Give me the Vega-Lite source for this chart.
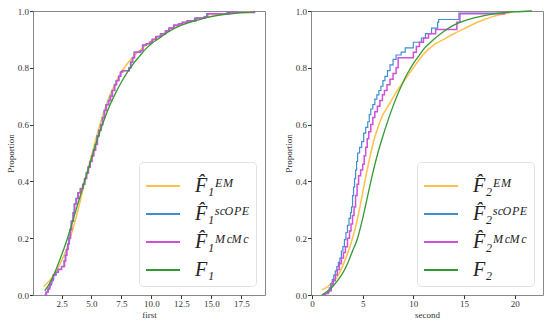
{
  "$schema": "https://vega.github.io/schema/vega-lite/v6.json",
  "padding": {"left": 5, "top": 6, "right": 0, "bottom": 0},
  "bounds": "flush",
  "spacing": 46,
  "config": {
    "view": {"stroke": "#888", "strokeWidth": 1},
    "font": "Liberation Serif",
    "axis": {"domain": false, "grid": false, "tickColor": "#333", "tickSize": 3.5, "labelFont": "Liberation Serif", "labelFontSize": 9, "labelColor": "#333", "labelPadding": 1, "titleFont": "Liberation Serif", "titleFontSize": 9, "titleFontWeight": "normal", "titleColor": "#333", "titlePadding": 2},
    "legend": {"orient": "bottom-right", "offset": 9, "title": null, "padding": 6, "fillColor": "rgba(255,255,255,0.85)", "strokeColor": "#e2e2e2", "cornerRadius": 4, "symbolType": "stroke", "symbolSize": 1156, "symbolStrokeWidth": 2, "labelFont": "Liberation Serif", "labelFontStyle": "italic", "labelFontSize": 20, "labelColor": "#222", "rowPadding": -5, "labelOffset": 14}
  },
  "datasets": {
    "first": [
      {"s":"EM","x":1.0,"y":0.03},{"s":"EM","x":1.5,"y":0.05},{"s":"EM","x":2.0,"y":0.08},{"s":"EM","x":2.5,"y":0.12},{"s":"EM","x":3.0,"y":0.17},{"s":"EM","x":3.5,"y":0.24},{"s":"EM","x":4.0,"y":0.32},{"s":"EM","x":4.5,"y":0.41},{"s":"EM","x":5.0,"y":0.49},{"s":"EM","x":5.5,"y":0.57},{"s":"EM","x":6.0,"y":0.64},{"s":"EM","x":6.5,"y":0.70},{"s":"EM","x":7.0,"y":0.745},{"s":"EM","x":7.5,"y":0.785},{"s":"EM","x":8.0,"y":0.815},{"s":"EM","x":8.5,"y":0.84},{"s":"EM","x":9.0,"y":0.86},{"s":"EM","x":9.5,"y":0.878},{"s":"EM","x":10.0,"y":0.895},{"s":"EM","x":11.0,"y":0.92},{"s":"EM","x":12.0,"y":0.943},{"s":"EM","x":13.0,"y":0.96},{"s":"EM","x":14.0,"y":0.973},{"s":"EM","x":15.0,"y":0.982},{"s":"EM","x":16.0,"y":0.989},{"s":"EM","x":17.0,"y":0.994},{"s":"EM","x":18.0,"y":0.997},{"s":"EM","x":18.6,"y":0.998},
      {"s":"SCOPE","x":1.1,"y":0.0},{"s":"SCOPE","x":1.25,"y":0.01},{"s":"SCOPE","x":1.4,"y":0.025},{"s":"SCOPE","x":1.55,"y":0.04},{"s":"SCOPE","x":1.7,"y":0.055},{"s":"SCOPE","x":1.85,"y":0.07},{"s":"SCOPE","x":2.05,"y":0.08},{"s":"SCOPE","x":2.25,"y":0.09},{"s":"SCOPE","x":2.5,"y":0.1},{"s":"SCOPE","x":2.7,"y":0.12},{"s":"SCOPE","x":2.8,"y":0.14},{"s":"SCOPE","x":2.9,"y":0.16},{"s":"SCOPE","x":3.0,"y":0.18},{"s":"SCOPE","x":3.1,"y":0.2},{"s":"SCOPE","x":3.2,"y":0.23},{"s":"SCOPE","x":3.3,"y":0.26},{"s":"SCOPE","x":3.45,"y":0.29},{"s":"SCOPE","x":3.55,"y":0.32},{"s":"SCOPE","x":3.7,"y":0.34},{"s":"SCOPE","x":3.85,"y":0.36},{"s":"SCOPE","x":4.05,"y":0.375},{"s":"SCOPE","x":4.25,"y":0.39},{"s":"SCOPE","x":4.4,"y":0.41},{"s":"SCOPE","x":4.55,"y":0.43},{"s":"SCOPE","x":4.7,"y":0.45},{"s":"SCOPE","x":4.85,"y":0.47},{"s":"SCOPE","x":5.0,"y":0.49},{"s":"SCOPE","x":5.15,"y":0.51},{"s":"SCOPE","x":5.3,"y":0.53},{"s":"SCOPE","x":5.45,"y":0.56},{"s":"SCOPE","x":5.6,"y":0.58},{"s":"SCOPE","x":5.75,"y":0.6},{"s":"SCOPE","x":5.9,"y":0.625},{"s":"SCOPE","x":6.05,"y":0.65},{"s":"SCOPE","x":6.2,"y":0.67},{"s":"SCOPE","x":6.4,"y":0.685},{"s":"SCOPE","x":6.55,"y":0.7},{"s":"SCOPE","x":6.7,"y":0.72},{"s":"SCOPE","x":6.9,"y":0.74},{"s":"SCOPE","x":7.05,"y":0.755},{"s":"SCOPE","x":7.25,"y":0.77},{"s":"SCOPE","x":7.4,"y":0.785},{"s":"SCOPE","x":7.55,"y":0.79},{"s":"SCOPE","x":8.1,"y":0.8},{"s":"SCOPE","x":8.25,"y":0.82},{"s":"SCOPE","x":8.4,"y":0.835},{"s":"SCOPE","x":8.55,"y":0.855},{"s":"SCOPE","x":9.05,"y":0.86},{"s":"SCOPE","x":9.25,"y":0.88},{"s":"SCOPE","x":9.55,"y":0.885},{"s":"SCOPE","x":9.85,"y":0.89},{"s":"SCOPE","x":10.05,"y":0.9},{"s":"SCOPE","x":10.35,"y":0.91},{"s":"SCOPE","x":10.75,"y":0.92},{"s":"SCOPE","x":11.15,"y":0.93},{"s":"SCOPE","x":11.45,"y":0.94},{"s":"SCOPE","x":11.85,"y":0.95},{"s":"SCOPE","x":12.25,"y":0.955},{"s":"SCOPE","x":12.55,"y":0.96},{"s":"SCOPE","x":12.95,"y":0.965},{"s":"SCOPE","x":13.6,"y":0.975},{"s":"SCOPE","x":14.4,"y":0.98},{"s":"SCOPE","x":14.6,"y":0.99},{"s":"SCOPE","x":16.3,"y":0.995},{"s":"SCOPE","x":18.6,"y":1.0},
      {"s":"MCMC","x":1.1,"y":0.0},{"s":"MCMC","x":1.2,"y":0.01},{"s":"MCMC","x":1.35,"y":0.02},{"s":"MCMC","x":1.5,"y":0.035},{"s":"MCMC","x":1.65,"y":0.05},{"s":"MCMC","x":1.8,"y":0.07},{"s":"MCMC","x":2.0,"y":0.08},{"s":"MCMC","x":2.2,"y":0.09},{"s":"MCMC","x":2.5,"y":0.1},{"s":"MCMC","x":2.75,"y":0.12},{"s":"MCMC","x":2.85,"y":0.14},{"s":"MCMC","x":2.95,"y":0.16},{"s":"MCMC","x":3.05,"y":0.18},{"s":"MCMC","x":3.15,"y":0.2},{"s":"MCMC","x":3.25,"y":0.23},{"s":"MCMC","x":3.35,"y":0.26},{"s":"MCMC","x":3.5,"y":0.29},{"s":"MCMC","x":3.6,"y":0.32},{"s":"MCMC","x":3.75,"y":0.34},{"s":"MCMC","x":3.9,"y":0.36},{"s":"MCMC","x":4.1,"y":0.375},{"s":"MCMC","x":4.3,"y":0.39},{"s":"MCMC","x":4.45,"y":0.41},{"s":"MCMC","x":4.6,"y":0.43},{"s":"MCMC","x":4.75,"y":0.45},{"s":"MCMC","x":4.9,"y":0.47},{"s":"MCMC","x":5.05,"y":0.49},{"s":"MCMC","x":5.2,"y":0.51},{"s":"MCMC","x":5.35,"y":0.53},{"s":"MCMC","x":5.5,"y":0.56},{"s":"MCMC","x":5.65,"y":0.58},{"s":"MCMC","x":5.8,"y":0.6},{"s":"MCMC","x":5.95,"y":0.625},{"s":"MCMC","x":6.1,"y":0.65},{"s":"MCMC","x":6.25,"y":0.67},{"s":"MCMC","x":6.45,"y":0.685},{"s":"MCMC","x":6.6,"y":0.7},{"s":"MCMC","x":6.75,"y":0.72},{"s":"MCMC","x":6.95,"y":0.74},{"s":"MCMC","x":7.1,"y":0.755},{"s":"MCMC","x":7.3,"y":0.77},{"s":"MCMC","x":7.45,"y":0.785},{"s":"MCMC","x":7.6,"y":0.79},{"s":"MCMC","x":8.15,"y":0.8},{"s":"MCMC","x":8.3,"y":0.82},{"s":"MCMC","x":8.45,"y":0.835},{"s":"MCMC","x":8.6,"y":0.855},{"s":"MCMC","x":9.1,"y":0.86},{"s":"MCMC","x":9.3,"y":0.88},{"s":"MCMC","x":9.6,"y":0.885},{"s":"MCMC","x":9.9,"y":0.89},{"s":"MCMC","x":10.1,"y":0.9},{"s":"MCMC","x":10.4,"y":0.91},{"s":"MCMC","x":10.8,"y":0.92},{"s":"MCMC","x":11.2,"y":0.93},{"s":"MCMC","x":11.5,"y":0.94},{"s":"MCMC","x":11.9,"y":0.95},{"s":"MCMC","x":12.3,"y":0.955},{"s":"MCMC","x":12.6,"y":0.96},{"s":"MCMC","x":13.0,"y":0.965},{"s":"MCMC","x":13.7,"y":0.975},{"s":"MCMC","x":14.5,"y":0.98},{"s":"MCMC","x":14.7,"y":0.99},{"s":"MCMC","x":16.5,"y":0.995},{"s":"MCMC","x":18.6,"y":1.0},
      {"s":"F","x":1.1,"y":0.015},{"s":"F","x":1.5,"y":0.04},{"s":"F","x":2.0,"y":0.085},{"s":"F","x":2.5,"y":0.14},{"s":"F","x":3.0,"y":0.2},{"s":"F","x":3.5,"y":0.27},{"s":"F","x":4.0,"y":0.34},{"s":"F","x":4.5,"y":0.41},{"s":"F","x":5.0,"y":0.48},{"s":"F","x":5.5,"y":0.55},{"s":"F","x":6.0,"y":0.61},{"s":"F","x":6.5,"y":0.665},{"s":"F","x":7.0,"y":0.71},{"s":"F","x":7.5,"y":0.75},{"s":"F","x":8.0,"y":0.785},{"s":"F","x":8.5,"y":0.815},{"s":"F","x":9.0,"y":0.84},{"s":"F","x":9.5,"y":0.865},{"s":"F","x":10.0,"y":0.885},{"s":"F","x":10.5,"y":0.9},{"s":"F","x":11.0,"y":0.915},{"s":"F","x":12.0,"y":0.94},{"s":"F","x":13.0,"y":0.957},{"s":"F","x":14.0,"y":0.97},{"s":"F","x":15.0,"y":0.98},{"s":"F","x":16.0,"y":0.987},{"s":"F","x":17.0,"y":0.992},{"s":"F","x":18.6,"y":0.997}
    ],
    "second": [
      {"s":"EM","x":0.96,"y":0.019},{"s":"EM","x":1.5,"y":0.028},{"s":"EM","x":2.0,"y":0.045},{"s":"EM","x":2.5,"y":0.065},{"s":"EM","x":3.0,"y":0.1},{"s":"EM","x":3.5,"y":0.145},{"s":"EM","x":4.0,"y":0.2},{"s":"EM","x":4.5,"y":0.27},{"s":"EM","x":5.0,"y":0.36},{"s":"EM","x":5.5,"y":0.45},{"s":"EM","x":6.0,"y":0.53},{"s":"EM","x":6.5,"y":0.59},{"s":"EM","x":7.0,"y":0.635},{"s":"EM","x":7.5,"y":0.665},{"s":"EM","x":8.0,"y":0.695},{"s":"EM","x":8.5,"y":0.725},{"s":"EM","x":9.0,"y":0.75},{"s":"EM","x":9.5,"y":0.775},{"s":"EM","x":10.0,"y":0.8},{"s":"EM","x":10.5,"y":0.825},{"s":"EM","x":11.0,"y":0.848},{"s":"EM","x":11.5,"y":0.865},{"s":"EM","x":12.0,"y":0.88},{"s":"EM","x":13.0,"y":0.9},{"s":"EM","x":14.0,"y":0.92},{"s":"EM","x":15.0,"y":0.937},{"s":"EM","x":16.0,"y":0.955},{"s":"EM","x":17.0,"y":0.97},{"s":"EM","x":18.0,"y":0.982},{"s":"EM","x":19.0,"y":0.99},{"s":"EM","x":19.5,"y":0.993},
      {"s":"SCOPE","x":1.06,"y":0.0},{"s":"SCOPE","x":1.3,"y":0.005},{"s":"SCOPE","x":1.5,"y":0.01},{"s":"SCOPE","x":1.7,"y":0.025},{"s":"SCOPE","x":1.85,"y":0.04},{"s":"SCOPE","x":2.0,"y":0.055},{"s":"SCOPE","x":2.15,"y":0.07},{"s":"SCOPE","x":2.3,"y":0.085},{"s":"SCOPE","x":2.45,"y":0.1},{"s":"SCOPE","x":2.6,"y":0.115},{"s":"SCOPE","x":2.75,"y":0.13},{"s":"SCOPE","x":2.9,"y":0.155},{"s":"SCOPE","x":3.05,"y":0.17},{"s":"SCOPE","x":3.2,"y":0.195},{"s":"SCOPE","x":3.35,"y":0.22},{"s":"SCOPE","x":3.5,"y":0.245},{"s":"SCOPE","x":3.65,"y":0.27},{"s":"SCOPE","x":3.8,"y":0.29},{"s":"SCOPE","x":3.9,"y":0.31},{"s":"SCOPE","x":4.0,"y":0.35},{"s":"SCOPE","x":4.1,"y":0.38},{"s":"SCOPE","x":4.2,"y":0.41},{"s":"SCOPE","x":4.3,"y":0.44},{"s":"SCOPE","x":4.4,"y":0.47},{"s":"SCOPE","x":4.5,"y":0.5},{"s":"SCOPE","x":4.7,"y":0.52},{"s":"SCOPE","x":4.9,"y":0.54},{"s":"SCOPE","x":5.1,"y":0.57},{"s":"SCOPE","x":5.3,"y":0.59},{"s":"SCOPE","x":5.5,"y":0.61},{"s":"SCOPE","x":5.65,"y":0.635},{"s":"SCOPE","x":5.8,"y":0.655},{"s":"SCOPE","x":6.0,"y":0.67},{"s":"SCOPE","x":6.2,"y":0.69},{"s":"SCOPE","x":6.4,"y":0.705},{"s":"SCOPE","x":6.6,"y":0.72},{"s":"SCOPE","x":6.8,"y":0.735},{"s":"SCOPE","x":7.0,"y":0.755},{"s":"SCOPE","x":7.2,"y":0.77},{"s":"SCOPE","x":7.45,"y":0.79},{"s":"SCOPE","x":7.7,"y":0.81},{"s":"SCOPE","x":8.0,"y":0.83},{"s":"SCOPE","x":8.3,"y":0.845},{"s":"SCOPE","x":8.8,"y":0.855},{"s":"SCOPE","x":9.2,"y":0.87},{"s":"SCOPE","x":10.0,"y":0.89},{"s":"SCOPE","x":10.8,"y":0.905},{"s":"SCOPE","x":11.2,"y":0.92},{"s":"SCOPE","x":11.8,"y":0.94},{"s":"SCOPE","x":12.4,"y":0.96},{"s":"SCOPE","x":12.5,"y":0.97},{"s":"SCOPE","x":14.5,"y":0.993},{"s":"SCOPE","x":19.0,"y":1.0},
      {"s":"MCMC","x":1.0,"y":0.0},{"s":"MCMC","x":1.3,"y":0.005},{"s":"MCMC","x":1.6,"y":0.015},{"s":"MCMC","x":1.9,"y":0.035},{"s":"MCMC","x":2.1,"y":0.05},{"s":"MCMC","x":2.3,"y":0.07},{"s":"MCMC","x":2.5,"y":0.09},{"s":"MCMC","x":2.7,"y":0.11},{"s":"MCMC","x":2.9,"y":0.13},{"s":"MCMC","x":3.1,"y":0.15},{"s":"MCMC","x":3.3,"y":0.17},{"s":"MCMC","x":3.5,"y":0.2},{"s":"MCMC","x":3.7,"y":0.225},{"s":"MCMC","x":3.85,"y":0.25},{"s":"MCMC","x":4.0,"y":0.28},{"s":"MCMC","x":4.15,"y":0.31},{"s":"MCMC","x":4.3,"y":0.35},{"s":"MCMC","x":4.45,"y":0.39},{"s":"MCMC","x":4.6,"y":0.42},{"s":"MCMC","x":4.8,"y":0.44},{"s":"MCMC","x":5.0,"y":0.46},{"s":"MCMC","x":5.15,"y":0.49},{"s":"MCMC","x":5.3,"y":0.52},{"s":"MCMC","x":5.45,"y":0.55},{"s":"MCMC","x":5.6,"y":0.575},{"s":"MCMC","x":5.8,"y":0.6},{"s":"MCMC","x":6.0,"y":0.625},{"s":"MCMC","x":6.2,"y":0.645},{"s":"MCMC","x":6.45,"y":0.665},{"s":"MCMC","x":6.7,"y":0.685},{"s":"MCMC","x":6.95,"y":0.705},{"s":"MCMC","x":7.15,"y":0.72},{"s":"MCMC","x":7.4,"y":0.74},{"s":"MCMC","x":7.7,"y":0.76},{"s":"MCMC","x":8.0,"y":0.78},{"s":"MCMC","x":8.3,"y":0.8},{"s":"MCMC","x":8.5,"y":0.835},{"s":"MCMC","x":10.0,"y":0.855},{"s":"MCMC","x":10.3,"y":0.875},{"s":"MCMC","x":10.6,"y":0.89},{"s":"MCMC","x":11.0,"y":0.905},{"s":"MCMC","x":11.5,"y":0.92},{"s":"MCMC","x":12.2,"y":0.935},{"s":"MCMC","x":14.3,"y":0.96},{"s":"MCMC","x":14.6,"y":0.99},{"s":"MCMC","x":19.0,"y":1.0},
      {"s":"F","x":0.96,"y":0.0},{"s":"F","x":1.5,"y":0.012},{"s":"F","x":2.0,"y":0.028},{"s":"F","x":2.5,"y":0.05},{"s":"F","x":3.0,"y":0.075},{"s":"F","x":3.5,"y":0.11},{"s":"F","x":4.0,"y":0.155},{"s":"F","x":4.5,"y":0.2},{"s":"F","x":5.0,"y":0.27},{"s":"F","x":5.5,"y":0.35},{"s":"F","x":6.0,"y":0.43},{"s":"F","x":6.5,"y":0.5},{"s":"F","x":7.0,"y":0.56},{"s":"F","x":7.5,"y":0.615},{"s":"F","x":8.0,"y":0.665},{"s":"F","x":8.5,"y":0.71},{"s":"F","x":9.0,"y":0.75},{"s":"F","x":9.5,"y":0.785},{"s":"F","x":10.0,"y":0.815},{"s":"F","x":10.6,"y":0.845},{"s":"F","x":11.0,"y":0.865},{"s":"F","x":11.5,"y":0.883},{"s":"F","x":12.0,"y":0.9},{"s":"F","x":13.0,"y":0.928},{"s":"F","x":14.0,"y":0.95},{"s":"F","x":15.0,"y":0.965},{"s":"F","x":16.0,"y":0.976},{"s":"F","x":17.0,"y":0.984},{"s":"F","x":18.0,"y":0.99},{"s":"F","x":19.0,"y":0.994},{"s":"F","x":20.0,"y":0.997},{"s":"F","x":21.7,"y":1.0}
    ]
  },
  "hconcat": [
    {
      "width": 232, "height": 284,
      "data": {"name": "first"},
      "encoding": {
        "x": {"field": "x", "type": "quantitative", "title": "first", "scale": {"domain": [0.12, 19.48], "nice": false, "zero": false}, "axis": {"values": [2.5, 5, 7.5, 10, 12.5, 15, 17.5], "format": ".1f"}},
        "y": {"field": "y", "type": "quantitative", "title": "Proportion", "scale": {"domain": [0, 1], "nice": false}, "axis": {"values": [0, 0.2, 0.4, 0.6, 0.8, 1.0], "format": ".1f"}},
        "color": {"field": "s", "type": "nominal", "scale": {"domain": ["EM", "SCOPE", "MCMC", "F"], "range": ["#ffc04c", "#3f8fd0", "#d050d8", "#339933"]},
          "legend": {"labelExpr": "datum.value == 'EM' ? 'F\u0302\u2081\u1D31\u1D39' : datum.value == 'SCOPE' ? 'F\u0302\u2081\u02E2\u1D9C\u1D3C\u1D3E\u1D31' : datum.value == 'MCMC' ? 'F\u0302\u2081\u1D39\u1D9C\u1D39\u1D9C' : 'F\u2081'"}}
      },
      "layer": [
        {"transform": [{"filter": "datum.s == 'EM'"}], "mark": {"type": "line", "interpolate": "monotone", "strokeWidth": 1.5}},
        {"transform": [{"filter": "datum.s == 'SCOPE'"}], "mark": {"type": "line", "interpolate": "step-after", "strokeWidth": 1.2}},
        {"transform": [{"filter": "datum.s == 'MCMC'"}], "mark": {"type": "line", "interpolate": "step-after", "strokeWidth": 1.5}},
        {"transform": [{"filter": "datum.s == 'F'"}], "mark": {"type": "line", "interpolate": "monotone", "strokeWidth": 1.3}}
      ]
    },
    {
      "width": 232, "height": 284,
      "data": {"name": "second"},
      "encoding": {
        "x": {"field": "x", "type": "quantitative", "title": "second", "scale": {"domain": [-0.1, 22.8], "nice": false, "zero": false}, "axis": {"values": [0, 5, 10, 15, 20], "format": "d"}},
        "y": {"field": "y", "type": "quantitative", "title": "Proportion", "scale": {"domain": [0, 1], "nice": false}, "axis": {"values": [0, 0.2, 0.4, 0.6, 0.8, 1.0], "format": ".1f"}},
        "color": {"field": "s", "type": "nominal", "scale": {"domain": ["EM", "SCOPE", "MCMC", "F"], "range": ["#ffc04c", "#3f8fd0", "#d050d8", "#339933"]},
          "legend": {"labelExpr": "datum.value == 'EM' ? 'F\u0302\u2082\u1D31\u1D39' : datum.value == 'SCOPE' ? 'F\u0302\u2082\u02E2\u1D9C\u1D3C\u1D3E\u1D31' : datum.value == 'MCMC' ? 'F\u0302\u2082\u1D39\u1D9C\u1D39\u1D9C' : 'F\u2082'"}}
      },
      "layer": [
        {"transform": [{"filter": "datum.s == 'EM'"}], "mark": {"type": "line", "interpolate": "monotone", "strokeWidth": 1.5}},
        {"transform": [{"filter": "datum.s == 'SCOPE'"}], "mark": {"type": "line", "interpolate": "step-after", "strokeWidth": 1.2}},
        {"transform": [{"filter": "datum.s == 'MCMC'"}], "mark": {"type": "line", "interpolate": "step-after", "strokeWidth": 1.5}},
        {"transform": [{"filter": "datum.s == 'F'"}], "mark": {"type": "line", "interpolate": "monotone", "strokeWidth": 1.3}}
      ]
    }
  ],
  "resolve": {"legend": {"color": "independent"}}
}
